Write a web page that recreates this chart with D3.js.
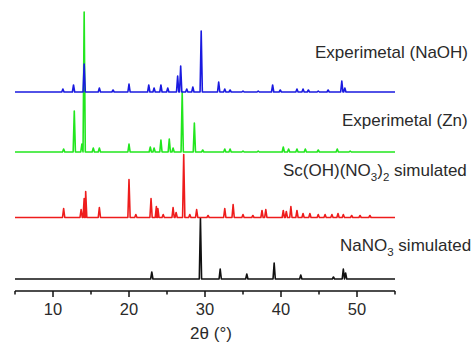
<!DOCTYPE html>
<html>
<head>
<meta charset="utf-8">
<script src="https://cdn.jsdelivr.net/npm/d3@7"></script>
<style>
  body { margin: 0; background: #fff; }
  svg { display: block; font-family: "Liberation Sans", Arial, sans-serif; }
</style>
</head>
<body>
<svg id="chart" width="473" height="342"></svg>
<script>
// peak positions (2theta) and heights (arb. units)
const nano3Pos = [23.0, 29.4, 32.0, 35.5, 39.1, 42.6, 46.9, 48.2, 48.5]
const nano3Int = [7, 61, 10, 5, 16, 4, 2, 10, 6]

const scPos = [11.4, 13.7, 14.1, 14.3, 16.1, 20.0, 20.9, 22.9, 23.6, 23.8, 24.5, 25.8, 26.2, 27.2, 28.0, 28.9,
               30.4, 32.6, 33.7, 35.0, 36.3, 37.5, 38.0, 40.3, 40.7, 41.3, 42.1, 42.9, 43.8, 44.9, 45.8, 46.7,
               47.5, 48.2, 49.3, 50.4, 51.7]
const scInt = [9, 8, 19, 26, 10, 38, 3, 19, 11, 9, 3, 10, 5, 63, 3, 8,
               2, 9, 13, 3, 2, 7, 8, 7, 6, 11, 7, 4, 4, 3, 3, 3,
               4, 3, 2, 2, 2]

const znPos = [11.4, 12.8, 13.8, 14.1, 15.3, 16.1, 20.0, 22.8, 23.3, 24.2, 25.3, 25.8, 27.0, 28.6, 29.7,
               32.6, 33.3, 35.0, 37.0, 40.3, 41.0, 42.1, 43.2, 44.9, 47.4, 49.1]
const znInt = [3, 41, 8, 140, 4, 4, 8, 5, 4, 12, 13, 4, 60, 29, 2,
               3, 3, 1, 1, 5, 3, 3, 3, 2, 3, 1]

const naohPos = [11.3, 12.7, 14.1, 16.1, 17.9, 20.0, 22.6, 23.3, 24.2, 25.1, 26.4, 26.8, 27.6, 28.4, 29.5,
                 31.8, 32.6, 33.3, 35.0, 37.0, 38.9, 39.9, 42.1, 42.9, 43.6, 44.9, 46.2, 48.0, 48.4]
const naohInt = [3, 7, 28, 4, 2, 8, 7, 4, 7, 4, 16, 26, 3, 5, 61,
                 10, 3, 2, 1, 1, 7, 2, 3, 3, 2, 1, 2, 11, 4]

const xTicks = [10, 20, 30, 40, 50]
const xMinor = [5, 15, 25, 35, 45, 55]

const series = [
  { name: "NaNO3", pos: nano3Pos, val: nano3Int, offset: 12, color: "#111111" },
  { name: "Sc", pos: scPos, val: scInt, offset: 73.5, color: "#ee1c1c" },
  { name: "Zn", pos: znPos, val: znInt, offset: 139, color: "#22e61e" },
  { name: "NaOH", pos: naohPos, val: naohInt, offset: 199, color: "#1a1ae0" }
]

const svg = d3.select("#chart")
const x = d3.scaleLinear().domain([5, 55]).range([15, 395])
const y = d3.scaleLinear().domain([0, 279]).range([291, 12])

// turn peak list into a stick-like profile
function profile(pos, val) {
  const w = 0.15
  const pts = [[5, 0], [55, 0]]
  pos.forEach((p, i) => {
    pts.push([p - w, 0], [p, val[i]], [p + w, 0])
  })
  pts.sort((a, b) => a[0] - b[0])
  return pts
}

const line = d3.line()

series.forEach(s => {
  const pts = profile(s.pos, s.val)
  svg.append("path")
    .attr("d", line.x(d => x(d[0])).y(d => y(d[1] + s.offset))(pts))
    .attr("fill", "none")
    .attr("stroke", s.color)
    .attr("stroke-width", 1.6)
    .attr("stroke-linejoin", "round")
})

// x axis
const axis = svg.append("g").attr("transform", "translate(0,291)")
axis.append("line")
  .attr("x1", x(5)).attr("x2", x(55))
  .attr("stroke", "#111").attr("stroke-width", 1.6)
axis.selectAll(".major").data(xTicks).join("line")
  .attr("x1", d => x(d)).attr("x2", d => x(d))
  .attr("y1", 0).attr("y2", 6)
  .attr("stroke", "#111").attr("stroke-width", 1.5)
axis.selectAll(".minor").data(xMinor).join("line")
  .attr("x1", d => x(d)).attr("x2", d => x(d))
  .attr("y1", 0).attr("y2", 3.5)
  .attr("stroke", "#111").attr("stroke-width", 1.5)
axis.selectAll("text").data(xTicks).join("text")
  .attr("x", d => x(d)).attr("y", 24)
  .attr("text-anchor", "middle")
  .attr("font-size", 16.5).attr("fill", "#2a2a2a")
  .text(d => d)

svg.append("text")
  .attr("x", 211).attr("y", 339)
  .attr("text-anchor", "middle")
  .attr("font-size", 17).attr("fill", "#2a2a2a")
  .text("2θ (°)")

// labels
const lab = (xp, yp) => svg.append("text")
  .attr("x", xp).attr("y", yp)
  .attr("font-size", 17).attr("fill", "#2a2a2a")

lab(315, 58).text("Experimetal (NaOH)")
lab(342, 126).text("Experimetal (Zn)")

const sc = lab(283, 176)
sc.append("tspan").text("Sc(OH)(NO")
sc.append("tspan").attr("font-size", 11.5).attr("dy", 5).text("3")
sc.append("tspan").attr("dy", -5).text(")")
sc.append("tspan").attr("font-size", 11.5).attr("dy", 5).text("2")
sc.append("tspan").attr("dy", -5).text(" simulated")

const na = lab(340, 251)
na.append("tspan").text("NaNO")
na.append("tspan").attr("font-size", 11.5).attr("dy", 5).text("3")
na.append("tspan").attr("dy", -5).text(" simulated")
</script>
</body>
</html>
